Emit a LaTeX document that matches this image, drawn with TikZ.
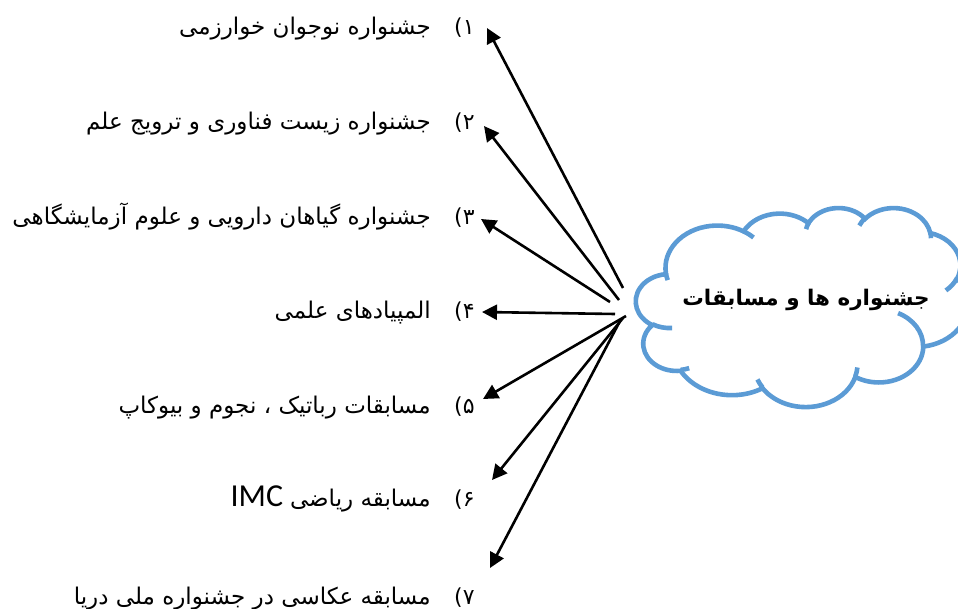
\documentclass[tikz,border=0pt]{standalone}
\usepackage{fontspec}
\usetikzlibrary{arrows.meta}
\TeXXeTstate=1
\newfontfamily\fa[Script=Arabic]{DejaVu Sans}
\newfontfamily\imcfont{Carlito}
\definecolor{cloudblue}{HTML}{5B9BD5}
\begin{document}
\begin{tikzpicture}[x=1pt,y=-1pt,
  declare function={vis(\cw,\chh,\cang)=atan2(\cw*sin(\cang),\chh*cos(\cang))+360*round((\cang-atan2(\cw*sin(\cang),\chh*cos(\cang)))/360);},
  itemtext/.style={anchor=base east, inner sep=0pt, font=\fa\fontsize{23}{26}\selectfont},
  itemnum/.style={anchor=base west, inner sep=0pt, font=\fa\fontsize{22}{26}\selectfont},
  conn/.style={line width=2.6pt, -{Triangle[length=15pt,width=15pt]}},
  cloudline/.style={draw=cloudblue, line width=4.6pt}]
\useasboundingbox (0,0) rectangle (958,609);

% cloud
\begin{scope}[xshift=636pt, yshift=-207.4pt, x=0.768pt, y=-0.4606pt]
\draw[cloudline, fill=white] (39.00,143.70)
  arc ({vis(67.53,91.90,-190.4875)}:{vis(67.53,91.90,-66.7070)}:67.53 and 91.90)
  arc ({vis(53.33,72.67,-144.1024)}:{vis(53.33,72.67,-54.1572)}:53.33 and 72.67)
  arc ({vis(43.65,59.45,-145.8079)}:{vis(43.65,59.45,-46.0849)}:43.65 and 59.45)
  arc ({vis(48.57,65.95,-130.9861)}:{vis(48.57,65.95,-13.7444)}:48.57 and 65.95)
  arc ({vis(53.33,72.73,-78.7089)}:{vis(53.33,72.73,30.3180)}:53.33 and 72.73)
  arc ({vis(67.75,92.20,-46.2673)}:{vis(67.75,92.20,84.0017)}:67.75 and 92.20)
  arc ({vis(57.85,78.67,0.6250)}:{vis(57.85,78.67,114.6583)}:57.85 and 78.67)
  arc ({vis(67.52,92.15,22.4516)}:{vis(67.52,92.15,137.6242)}:67.52 and 92.15)
  arc ({vis(77.20,105.43,66.2426)}:{vis(77.20,105.43,141.9536)}:77.20 and 105.43)
  arc ({vis(43.60,59.18,-274.9421)}:{vis(43.60,59.18,-128.2065)}:43.60 and 59.18)
  arc ({vis(43.45,59.45,-246.8285)}:{vis(43.45,59.45,-94.3096)}:43.45 and 59.45)
  -- cycle;
\draw[cloudline]
  (46.93,261.77) arc ({vis(43.45,59.45,86.7420)}:{vis(43.45,59.45,113.1715)}:43.45 and 59.45)
  (69.28,348.99) arc ({vis(43.60,59.18,73.6105)}:{vis(43.60,59.18,85.0580)}:43.60 and 59.18)
  (164.78,390.90) arc ({vis(67.52,92.15,137.6242)}:{vis(67.52,92.15,151.7053)}:67.52 and 92.15)
  (288.27,347.51) arc ({vis(67.52,92.15,6.4533)}:{vis(67.52,92.15,22.4517)}:67.52 and 92.15)
  (341.29,229.54) arc ({vis(57.85,78.67,-70.2924)}:{vis(57.85,78.67,0.6250)}:57.85 and 78.67)
  (417.98,153.54) arc ({vis(53.33,72.73,30.3180)}:{vis(53.33,72.73,58.0695)}:53.33 and 72.73)
  (383.24,54.26) arc ({vis(48.57,65.95,-13.7443)}:{vis(48.57,65.95,1.1146)}:48.57 and 65.95)
  (290.78,39.52) arc ({vis(48.57,65.95,-149.1815)}:{vis(48.57,65.95,-130.9861)}:48.57 and 65.95)
  (221.41,47.20) arc ({vis(43.65,59.45,-163.4943)}:{vis(43.65,59.45,-145.8079)}:43.65 and 59.45)
  (140.00,51.92) arc ({vis(67.53,91.90,-66.7070)}:{vis(67.53,91.90,-54.3876)}:67.53 and 91.90)
  (41.27,157.89) arc ({vis(67.53,91.90,157.6544)}:{vis(67.53,91.90,169.5126)}:67.53 and 91.90);
\end{scope}
\node[font=\fa\bfseries\fontsize{21.5}{24}\selectfont, inner sep=0pt] (hub) at (806,300) {\beginR جشنواره ها و مسابقات\endR};

% items
\node[itemtext] (i1) at (431,35) {\beginR جشنواره نوجوان خوارزمی\endR};
\node[itemnum] (n1) at (454,35) {۱)};
\node[itemtext] (i2) at (431,130) {\beginR جشنواره زیست فناوری و ترویج علم\endR};
\node[itemnum] (n2) at (454,130) {۲)};
\node[itemtext] (i3) at (431,225) {\beginR جشنواره گیاهان دارویی و علوم آزمایشگاهی\endR};
\node[itemnum] (n3) at (454,225) {۳)};
\node[itemtext] (i4) at (431,319) {\beginR المپیادهای علمی\endR};
\node[itemnum] (n4) at (454,319) {۴)};
\node[itemtext] (i5) at (431,413) {\beginR مسابقات رباتیک ، نجوم و بیوکاپ\endR};
\node[itemnum] (n5) at (454,413) {۵)};
\node[itemtext] (i6) at (431,506) {{\imcfont\fontsize{32}{34}\selectfont IMC}\hspace{7pt}\beginR مسابقه ریاضی\endR};
\node[itemnum] (n6) at (454,506) {۶)};
\node[itemtext] (i7) at (431,604) {\beginR مسابقه عکاسی در جشنواره ملی دریا\endR};
\node[itemnum] (n7) at (454,604) {۷)};

% arrow ends
\coordinate (s1) at (623,288); \coordinate (t1) at (487,28);
\coordinate (s2) at (619,300); \coordinate (t2) at (484,126);
\coordinate (s3) at (610,302); \coordinate (t3) at (481,219);
\coordinate (s4) at (615,314); \coordinate (t4) at (482,312);
\coordinate (s5) at (626,316); \coordinate (t5) at (483,399);
\coordinate (s6) at (623,318); \coordinate (t6) at (492,480);
\coordinate (s7) at (620,321); \coordinate (t7) at (490,568);
\foreach \k in {1,...,7}{\draw[conn] (s\k) -- (t\k);}
\end{tikzpicture}
\end{document}
